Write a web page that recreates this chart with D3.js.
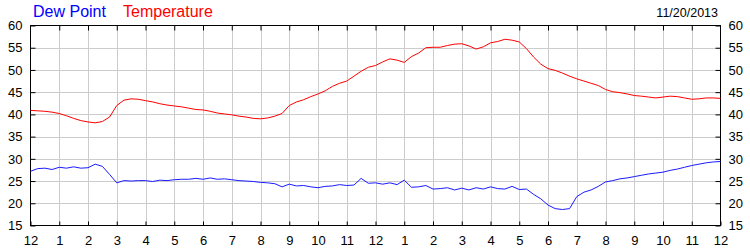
<!DOCTYPE html>
<html>
<head>
<meta charset="utf-8">
<script src="https://cdn.jsdelivr.net/npm/d3@7"></script>
<style>
  body { margin: 0; background: #fff; }
  text { font-family: Arial, "Liberation Sans", sans-serif; }
</style>
</head>
<body>
<div id="chart"></div>
<script>
// readings every 15 minutes, midnight to midnight
const temperature = [
  40.9, 40.8, 40.7, 40.5, 40.2, 39.7, 39.1, 38.6, 38.3, 38.1, 38.4, 39.4,
  42.0, 43.2, 43.5, 43.4, 43.1, 42.8, 42.4, 42.1, 41.9, 41.7, 41.4, 41.1,
  41.0, 40.7, 40.3, 40.1, 39.9, 39.6, 39.4, 39.1, 39.0, 39.2, 39.6, 40.2,
  42.0, 42.8, 43.3, 44.0, 44.6, 45.3, 46.3, 47.0, 47.5, 48.6, 49.7, 50.6,
  51.0, 51.8, 52.5, 52.2, 51.7, 53.0, 53.8, 55.0, 55.1, 55.1, 55.5, 55.8,
  55.9, 55.4, 54.7, 55.2, 56.1, 56.4, 56.9, 56.7, 56.3, 54.8, 52.9, 51.3,
  50.3, 49.9, 49.3, 48.6, 48.0, 47.5, 47.0, 46.5, 45.6, 45.1, 44.9, 44.6,
  44.25, 44.1, 43.9, 43.7, 43.9, 44.1, 44.0, 43.7, 43.4, 43.5, 43.7, 43.7,
  43.6
]
const dewPoint = [
  27.2, 27.8, 27.9, 27.6, 28.1, 27.9, 28.2, 27.9, 28.0, 28.8, 28.3, 26.5,
  24.6, 25.1, 25.0, 25.1, 25.1, 24.9, 25.2, 25.1, 25.3, 25.4, 25.4, 25.6,
  25.4, 25.7, 25.4, 25.5, 25.3, 25.1, 25.0, 24.9, 24.7, 24.6, 24.4, 23.7,
  24.3, 23.9, 24.0, 23.7, 23.5, 23.8, 23.9, 24.2, 24.0, 24.1, 25.6, 24.5,
  24.6, 24.3, 24.6, 24.2, 25.2, 23.6, 23.7, 24.0, 23.2, 23.3, 23.5, 23.0,
  23.4, 23.0, 23.5, 23.2, 23.7, 23.3, 23.2, 23.8, 23.1, 23.2, 22.0, 21.0,
  19.6, 18.8, 18.6, 18.8, 21.5, 22.5, 23.0, 23.8, 24.8, 25.1, 25.5, 25.7,
  26.0, 26.3, 26.6, 26.8, 27.0, 27.4, 27.7, 28.1, 28.5, 28.8, 29.1, 29.3,
  29.4
]
const hourLabels = ["12","1","2","3","4","5","6","7","8","9","10","11",
                    "12","1","2","3","4","5","6","7","8","9","10","11","12"]
const yTicks = [15, 20, 25, 30, 35, 40, 45, 50, 55, 60]
const dateLabel = "11/20/2013"

const width = 750
const height = 250
const plotL = 30.5, plotR = 720.5, plotT = 25.5, plotB = 225.5

const svg = d3.select("#chart")
    .append("svg")
    .attr("width", width)
    .attr("height", height)

const x = d3.scaleLinear().domain([0, 24]).range([plotL, plotR])
const y = d3.scaleLinear().domain([15, 60]).range([plotB, plotT])

// gridlines
svg.append("g")
    .selectAll("line")
    .data(d3.range(1, 24))
    .enter().append("line")
    .attr("x1", d => Math.round(x(d)) + 0.5)
    .attr("x2", d => Math.round(x(d)) + 0.5)
    .attr("y1", plotT)
    .attr("y2", plotB)
    .attr("stroke", "#cccccc")

svg.append("g")
    .selectAll("line")
    .data(yTicks.slice(1, -1))
    .enter().append("line")
    .attr("x1", plotL)
    .attr("x2", plotR)
    .attr("y1", d => Math.round(y(d)) + 0.5)
    .attr("y2", d => Math.round(y(d)) + 0.5)
    .attr("stroke", "#cccccc")

// axes with inward ticks, labels outside
const tickStyle = g => {
    g.select(".domain").remove()
    g.selectAll(".tick line").attr("stroke", "#000")
    g.selectAll(".tick text").attr("fill", "#000").style("font-size", "13px")
}

svg.append("g")
    .attr("transform", `translate(0,${plotB})`)
    .call(d3.axisBottom(x).tickValues(d3.range(0, 25)).tickFormat(d => hourLabels[d])
        .tickSizeInner(-4).tickSizeOuter(0).tickPadding(10))
    .call(tickStyle)

svg.append("g")
    .attr("transform", `translate(0,${plotT})`)
    .call(d3.axisTop(x).tickValues(d3.range(1, 24)).tickFormat("")
        .tickSizeInner(-5).tickSizeOuter(0))
    .call(tickStyle)

svg.append("g")
    .attr("transform", `translate(${plotL},0)`)
    .call(d3.axisLeft(y).tickValues(yTicks).tickSizeInner(-5).tickSizeOuter(0).tickPadding(8))
    .call(tickStyle)

svg.append("g")
    .attr("transform", `translate(${plotR},0)`)
    .call(d3.axisRight(y).tickValues(yTicks).tickSizeInner(-5).tickSizeOuter(0).tickPadding(8))
    .call(tickStyle)

// frame
svg.append("rect")
    .attr("x", plotL)
    .attr("y", plotT)
    .attr("width", plotR - plotL)
    .attr("height", plotB - plotT)
    .attr("fill", "none")
    .attr("stroke", "#000")

const line = d3.line()
    .x((d, i) => x(i / 4))
    .y(d => y(d))

svg.append("path")
    .datum(temperature)
    .attr("d", line)
    .attr("fill", "none")
    .attr("stroke", "#ff0000")
    .attr("stroke-width", 1)

svg.append("path")
    .datum(dewPoint)
    .attr("d", line)
    .attr("fill", "none")
    .attr("stroke", "#1a1aff")
    .attr("stroke-width", 1)

// legend + date
svg.append("text")
    .attr("x", 33).attr("y", 17)
    .attr("fill", "#0000ff")
    .style("font-size", "16px")
    .text("Dew Point")

svg.append("text")
    .attr("x", 123).attr("y", 17)
    .attr("fill", "#ff0000")
    .style("font-size", "16px")
    .text("Temperature")

svg.append("text")
    .attr("x", 718).attr("y", 17)
    .attr("text-anchor", "end")
    .attr("fill", "#000")
    .style("font-size", "12.5px")
    .text(dateLabel)
</script>
</body>
</html>
